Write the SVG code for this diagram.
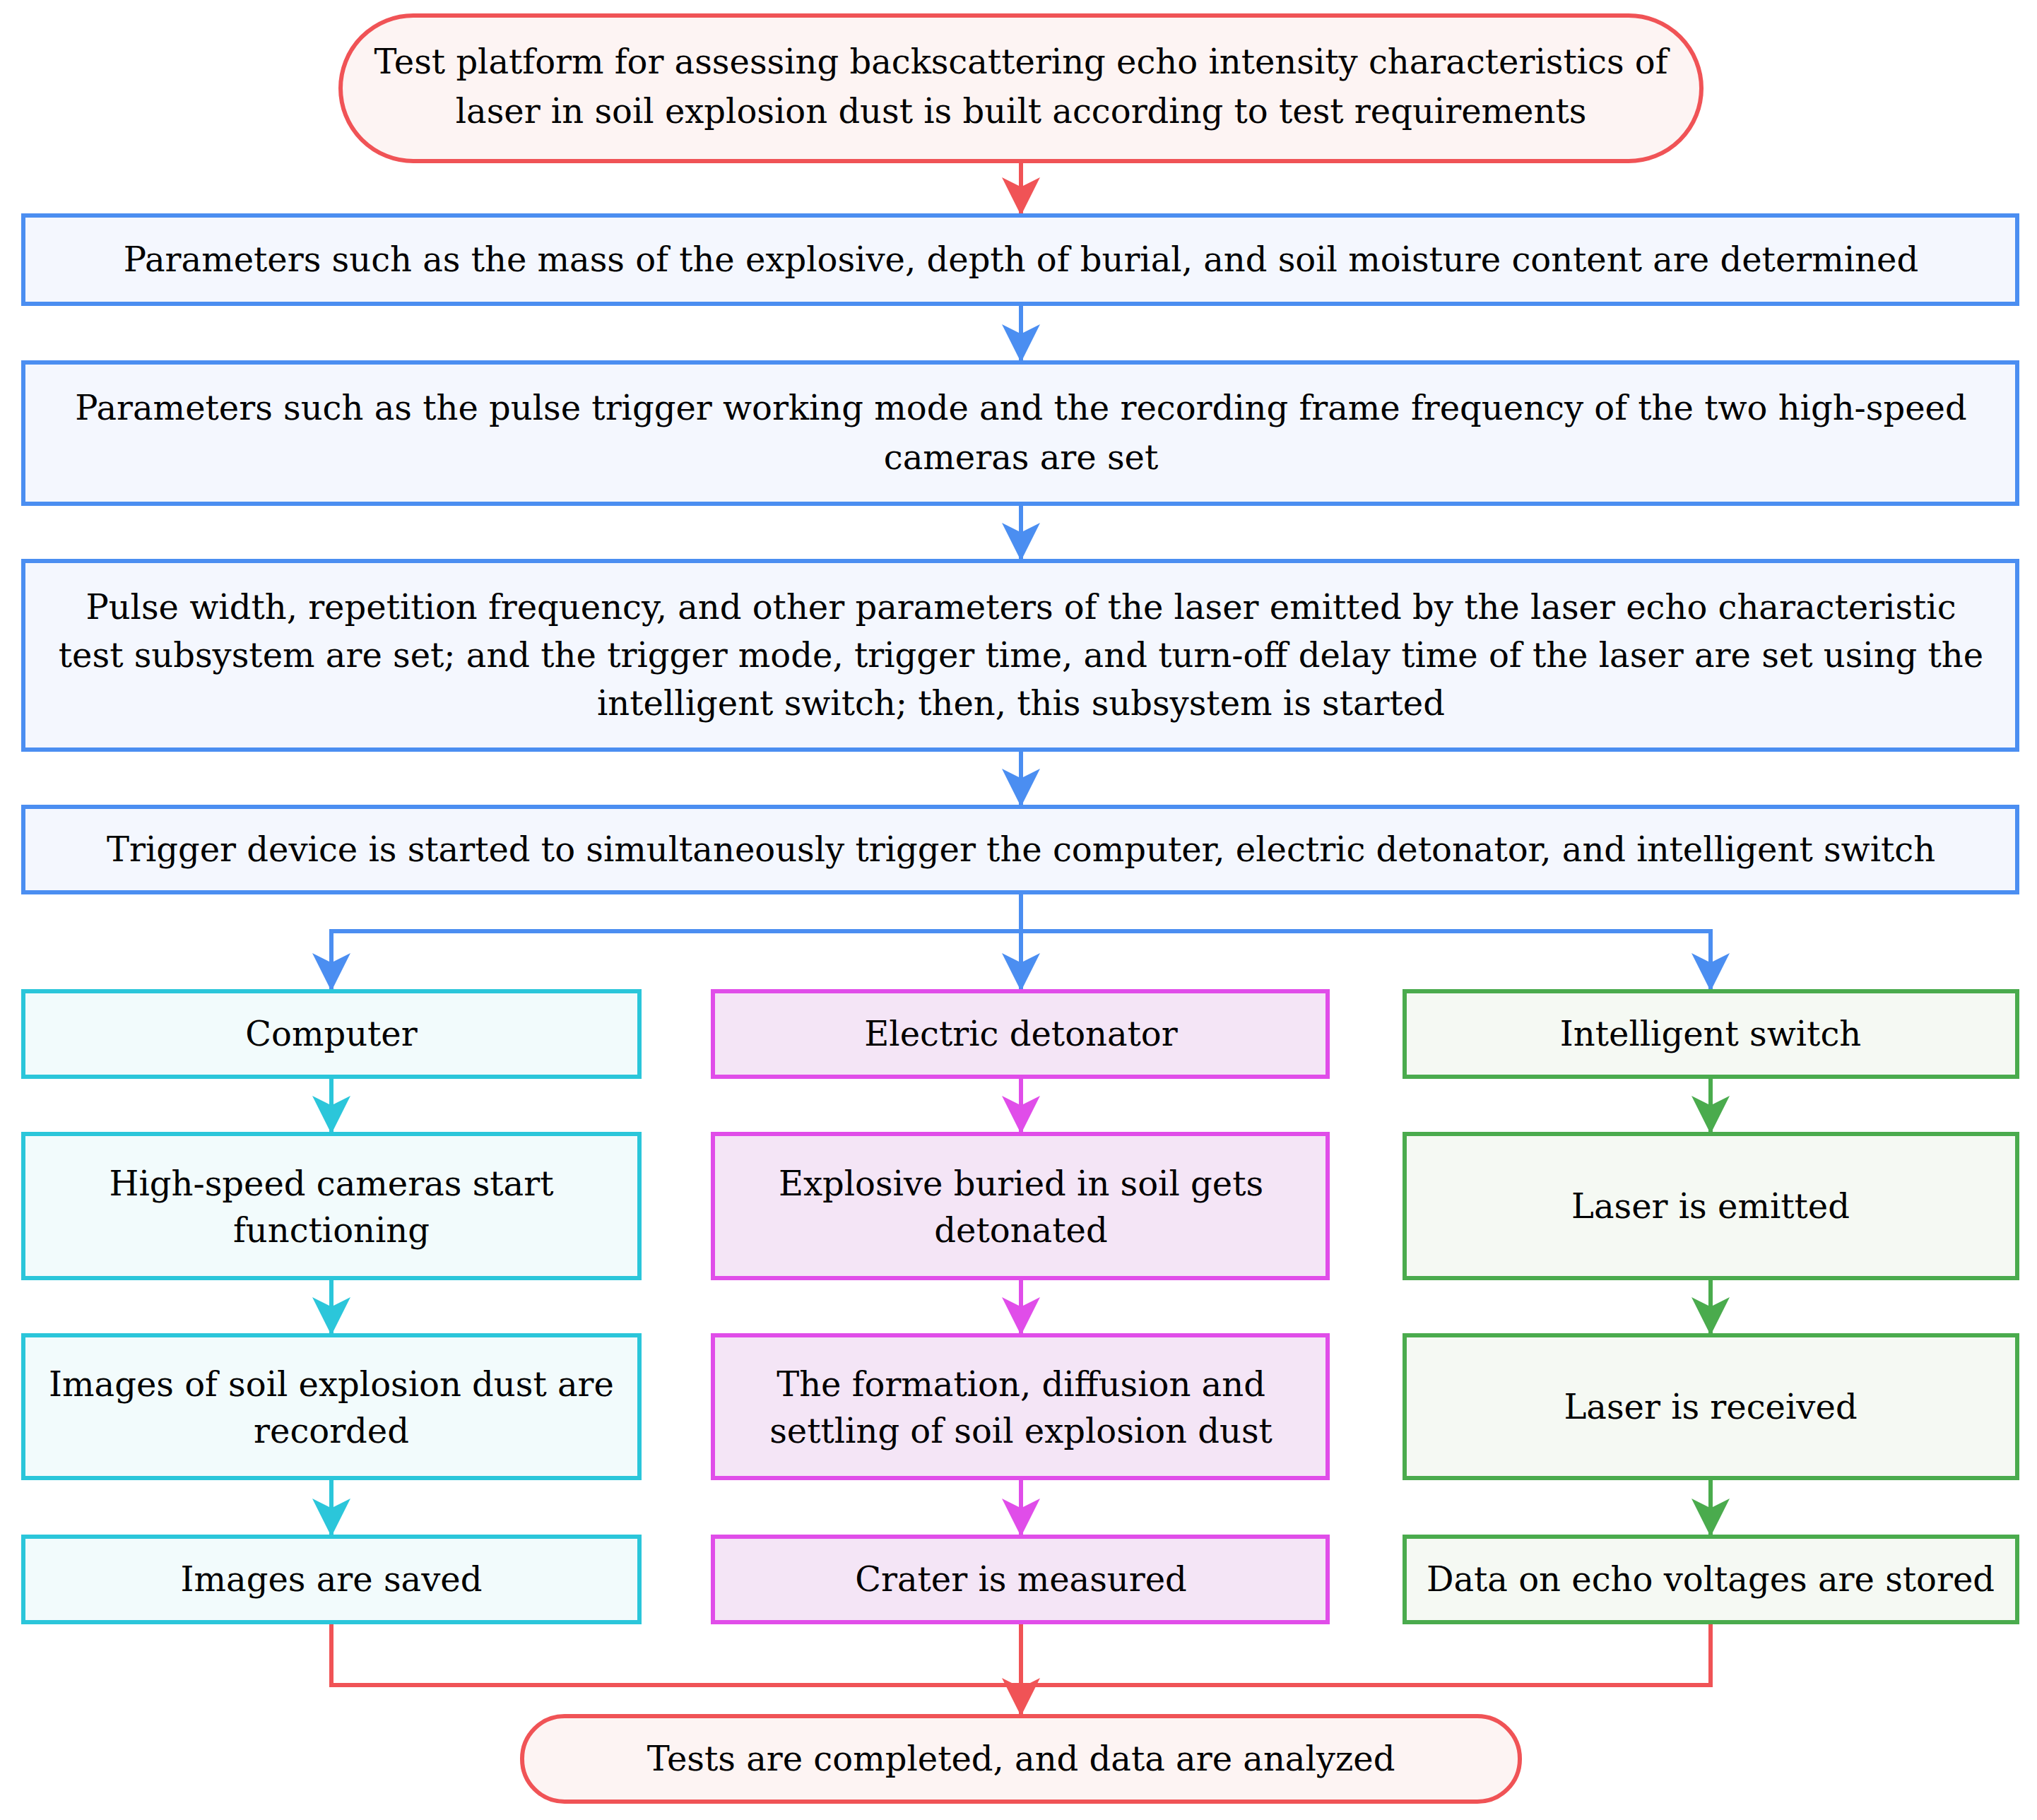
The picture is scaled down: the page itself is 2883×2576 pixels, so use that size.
<svg xmlns="http://www.w3.org/2000/svg" width="2883" height="2576" viewBox="0 0 2883 2576">
<style>
text{font-family:"DejaVu Serif","Liberation Serif",serif;font-size:48px;text-anchor:middle;fill:#000}
rect{stroke-width:6}
.r{stroke:#f05356;fill:#fdf4f3}
.b{stroke:#4b8ef1;fill:#f4f7fe}
.c{stroke:#2bc6da;fill:#f2fbfc}
.m{stroke:#e04de9;fill:#f4e5f6}
.g{stroke:#4aab4d;fill:#f5f9f3}
.l{fill:none;stroke-width:6}
</style>
<defs>
<marker id="ab" viewBox="0 0 20 20" refX="20" refY="10" markerWidth="9" markerHeight="9" orient="auto"><path d="M0,0 L20,10 L0,20 L5,10 Z" fill="#4b8ef1"/></marker>
<marker id="ar" viewBox="0 0 20 20" refX="20" refY="10" markerWidth="9" markerHeight="9" orient="auto"><path d="M0,0 L20,10 L0,20 L5,10 Z" fill="#f05356"/></marker>
<marker id="ac" viewBox="0 0 20 20" refX="20" refY="10" markerWidth="9" markerHeight="9" orient="auto"><path d="M0,0 L20,10 L0,20 L5,10 Z" fill="#2bc6da"/></marker>
<marker id="am" viewBox="0 0 20 20" refX="20" refY="10" markerWidth="9" markerHeight="9" orient="auto"><path d="M0,0 L20,10 L0,20 L5,10 Z" fill="#e04de9"/></marker>
<marker id="ag" viewBox="0 0 20 20" refX="20" refY="10" markerWidth="9" markerHeight="9" orient="auto"><path d="M0,0 L20,10 L0,20 L5,10 Z" fill="#4aab4d"/></marker>
</defs>
<g id="connectors">
<path class="l" stroke="#f05356" d="M1445,228 V305" marker-end="url(#ar)"/>
<path class="l" stroke="#4b8ef1" d="M1445,430 V513" marker-end="url(#ab)"/>
<path class="l" stroke="#4b8ef1" d="M1445,713 V794" marker-end="url(#ab)"/>
<path class="l" stroke="#4b8ef1" d="M1445,1061 V1142" marker-end="url(#ab)"/>
<path class="l" stroke="#4b8ef1" d="M1445,1263 V1403" marker-end="url(#ab)"/>
<path class="l" stroke="#4b8ef1" d="M1445,1318 H469 V1403" marker-end="url(#ab)"/>
<path class="l" stroke="#4b8ef1" d="M1445,1318 H2421 V1403" marker-end="url(#ab)"/>
<path class="l" stroke="#2bc6da" d="M469,1524 V1605" marker-end="url(#ac)"/>
<path class="l" stroke="#2bc6da" d="M469,1809 V1890" marker-end="url(#ac)"/>
<path class="l" stroke="#2bc6da" d="M469,2092 V2175" marker-end="url(#ac)"/>
<path class="l" stroke="#e04de9" d="M1445,1524 V1605" marker-end="url(#am)"/>
<path class="l" stroke="#e04de9" d="M1445,1809 V1890" marker-end="url(#am)"/>
<path class="l" stroke="#e04de9" d="M1445,2092 V2175" marker-end="url(#am)"/>
<path class="l" stroke="#4aab4d" d="M2421,1524 V1605" marker-end="url(#ag)"/>
<path class="l" stroke="#4aab4d" d="M2421,1809 V1890" marker-end="url(#ag)"/>
<path class="l" stroke="#4aab4d" d="M2421,2092 V2175" marker-end="url(#ag)"/>
<path class="l" stroke="#f05356" d="M469,2296 V2385 H2421 V2296"/>
<path class="l" stroke="#f05356" d="M1445,2296 V2429" marker-end="url(#ar)"/>
</g>
<g id="start"><rect class="r" x="482" y="22" width="1926" height="206" rx="103"/>
<text x="1445" y="104">Test platform for assessing backscattering echo intensity characteristics of</text>
<text x="1445" y="174">laser in soil explosion dust is built according to test requirements</text></g>
<g id="n1"><rect class="b" x="33" y="305" width="2822" height="125"/>
<text x="1445" y="384">Parameters such as the mass of the explosive, depth of burial, and soil moisture content are determined</text></g>
<g id="n2"><rect class="b" x="33" y="513" width="2822" height="200"/>
<text x="1445" y="594">Parameters such as the pulse trigger working mode and the recording frame frequency of the two high-speed</text>
<text x="1445" y="664">cameras are set</text></g>
<g id="n3"><rect class="b" x="33" y="794" width="2822" height="267"/>
<text x="1445" y="876">Pulse width, repetition frequency, and other parameters of the  laser emitted by the laser echo characteristic</text>
<text x="1445" y="944">test subsystem are set; and the trigger mode, trigger time, and turn-off delay time of the laser are set using the</text>
<text x="1445" y="1012">intelligent switch; then, this subsystem is started</text></g>
<g id="n4"><rect class="b" x="33" y="1142" width="2822" height="121"/>
<text x="1445" y="1219">Trigger device is started to simultaneously trigger the computer, electric detonator, and intelligent switch</text></g>
<g id="c1"><rect class="c" x="33" y="1403" width="872" height="121"/><text x="469" y="1480">Computer</text></g>
<g id="c2"><rect class="c" x="33" y="1605" width="872" height="204"/><text x="469" y="1692">High-speed cameras start</text><text x="469" y="1758">functioning</text></g>
<g id="c3"><rect class="c" x="33" y="1890" width="872" height="202"/><text x="469" y="1976">Images of soil explosion dust are</text><text x="469" y="2042">recorded</text></g>
<g id="c4"><rect class="c" x="33" y="2175" width="872" height="121"/><text x="469" y="2252">Images are saved</text></g>
<g id="m1"><rect class="m" x="1009" y="1403" width="870" height="121"/><text x="1445" y="1480">Electric detonator</text></g>
<g id="m2"><rect class="m" x="1009" y="1605" width="870" height="204"/><text x="1445" y="1692">Explosive buried in soil gets</text><text x="1445" y="1758">detonated</text></g>
<g id="m3"><rect class="m" x="1009" y="1890" width="870" height="202"/><text x="1445" y="1976">The formation, diffusion and</text><text x="1445" y="2042">settling of soil explosion dust</text></g>
<g id="m4"><rect class="m" x="1009" y="2175" width="870" height="121"/><text x="1445" y="2252">Crater is measured</text></g>
<g id="g1"><rect class="g" x="1988" y="1403" width="867" height="121"/><text x="2421" y="1480">Intelligent switch</text></g>
<g id="g2"><rect class="g" x="1988" y="1605" width="867" height="204"/><text x="2421" y="1724">Laser is emitted</text></g>
<g id="g3"><rect class="g" x="1988" y="1890" width="867" height="202"/><text x="2421" y="2008">Laser is received</text></g>
<g id="g4"><rect class="g" x="1988" y="2175" width="867" height="121"/><text x="2421" y="2252">Data on echo voltages are stored</text></g>
<g id="end"><rect class="r" x="739" y="2429" width="1412" height="121" rx="60"/><text x="1445" y="2506">Tests are completed, and data are analyzed</text></g>
</svg>
